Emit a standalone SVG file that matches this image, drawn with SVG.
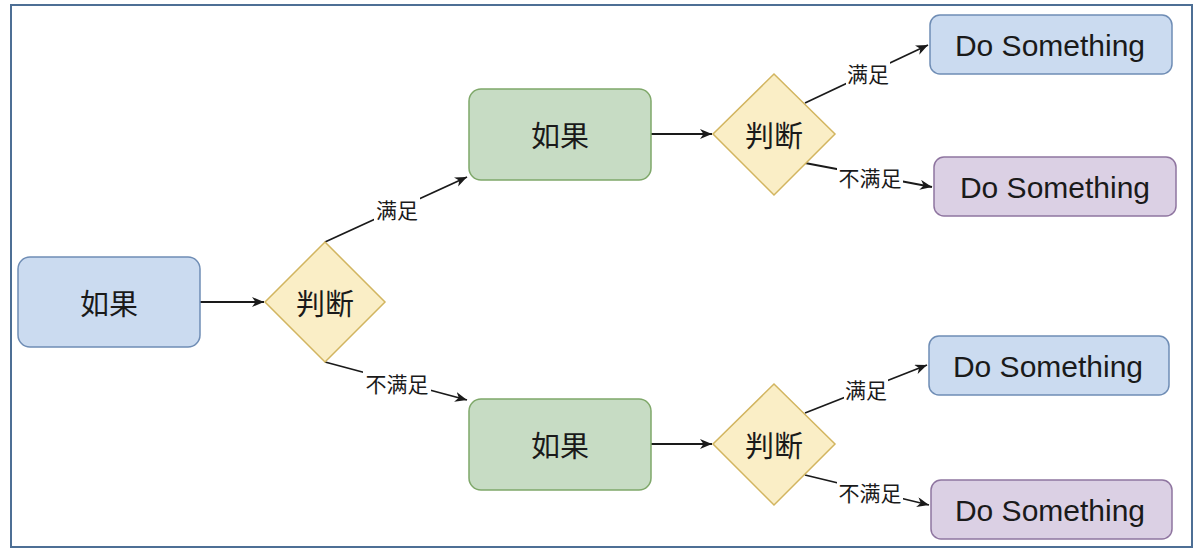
<svg xmlns="http://www.w3.org/2000/svg" width="1203" height="557" viewBox="0 0 1203 557">
<defs>
<style>
.blue{fill:#cbdbf0;stroke:#6f8db5;stroke-width:1.5}
.green{fill:#c7dcc4;stroke:#7fa86a;stroke-width:1.5}
.purple{fill:#dbd0e4;stroke:#8f75a0;stroke-width:1.5}
.yellow{fill:#faeec6;stroke:#d2b560;stroke-width:1.5}
.cn{font-family:"Noto Sans CJK SC","Noto Sans",sans-serif;fill:#1a1a1a;text-anchor:middle;dominant-baseline:central}
.big{font-size:29px}
.lbl{font-size:21px}
.en{font-family:"Liberation Sans",Arial,sans-serif;font-size:30px;fill:#1a1a1a;text-anchor:middle;dominant-baseline:central}
.edge{fill:none;stroke:#1a1a1a;stroke-width:1.8;marker-end:url(#arr)}
.bg{fill:#ffffff}
</style>
<marker id="arr" markerWidth="14" markerHeight="12" refX="12" refY="5" orient="auto" markerUnits="userSpaceOnUse">
<path d="M0,0 L12,5 L0,10 L3.5,5 z" fill="#1a1a1a"/>
</marker>
</defs>
<rect x="0" y="0" width="1203" height="557" fill="#ffffff"/>
<rect x="11" y="5" width="1181" height="542" fill="#ffffff" stroke="#4d6f95" stroke-width="2"/>

<g id="connectors">
<path class="edge" d="M200,302 L264,302"/>
<path class="edge" d="M325,242 L467,177"/>
<path class="edge" d="M325,362 L467,400"/>
<path class="edge" d="M651,134 L712,134"/>
<path class="edge" d="M651,444 L712,444"/>
<path class="edge" d="M805,103 L928,45"/>
<path class="edge" d="M805,163 L932,187"/>
<path class="edge" d="M805,413 L927,365"/>
<path class="edge" d="M805,475 L929,505"/>
<g id="labels">
<rect class="bg" x="374" y="197" width="46" height="24"/>
<text class="cn lbl" x="397" y="209">满足</text>
<rect class="bg" x="363" y="371" width="68" height="24"/>
<text class="cn lbl" x="397" y="383">不满足</text>
<rect class="bg" x="846" y="61" width="44" height="24"/>
<text class="cn lbl" x="868" y="73">满足</text>
<rect class="bg" x="837" y="165" width="66" height="24"/>
<text class="cn lbl" x="870" y="177">不满足</text>
<rect class="bg" x="844" y="377" width="44" height="24"/>
<text class="cn lbl" x="866" y="389">满足</text>
<rect class="bg" x="837" y="480" width="66" height="24"/>
<text class="cn lbl" x="870" y="492">不满足</text>
</g>
</g>

<g id="nodeA">
<rect class="blue" x="18" y="257" width="182" height="90" rx="12"/>
<text class="cn big" x="109" y="302">如果</text>
</g>
<g id="d1">
<polygon class="yellow" points="325,242 385,302 325,362 265,302"/>
<text class="cn big" x="325" y="302">判断</text>
</g>
<g id="g1">
<rect class="green" x="469" y="89" width="182" height="91" rx="12"/>
<text class="cn big" x="560" y="134">如果</text>
</g>
<g id="g2">
<rect class="green" x="469" y="399" width="182" height="91" rx="12"/>
<text class="cn big" x="560" y="444">如果</text>
</g>
<g id="d2">
<polygon class="yellow" points="774,74 835,134 774,195 713,134"/>
<text class="cn big" x="774" y="134">判断</text>
</g>
<g id="d3">
<polygon class="yellow" points="774,384 835,444 774,505 713,444"/>
<text class="cn big" x="774" y="444">判断</text>
</g>
<g id="ds1">
<rect class="blue" x="930" y="15" width="242" height="59" rx="10"/>
<text class="en" x="1050" y="45">Do Something</text>
</g>
<g id="ds2">
<rect class="purple" x="934" y="157" width="242" height="59" rx="10"/>
<text class="en" x="1055" y="187">Do Something</text>
</g>
<g id="ds3">
<rect class="blue" x="929" y="336" width="240" height="59" rx="10"/>
<text class="en" x="1048" y="366">Do Something</text>
</g>
<g id="ds4">
<rect class="purple" x="931" y="480" width="241" height="59" rx="10"/>
<text class="en" x="1050" y="510">Do Something</text>
</g>
</svg>
